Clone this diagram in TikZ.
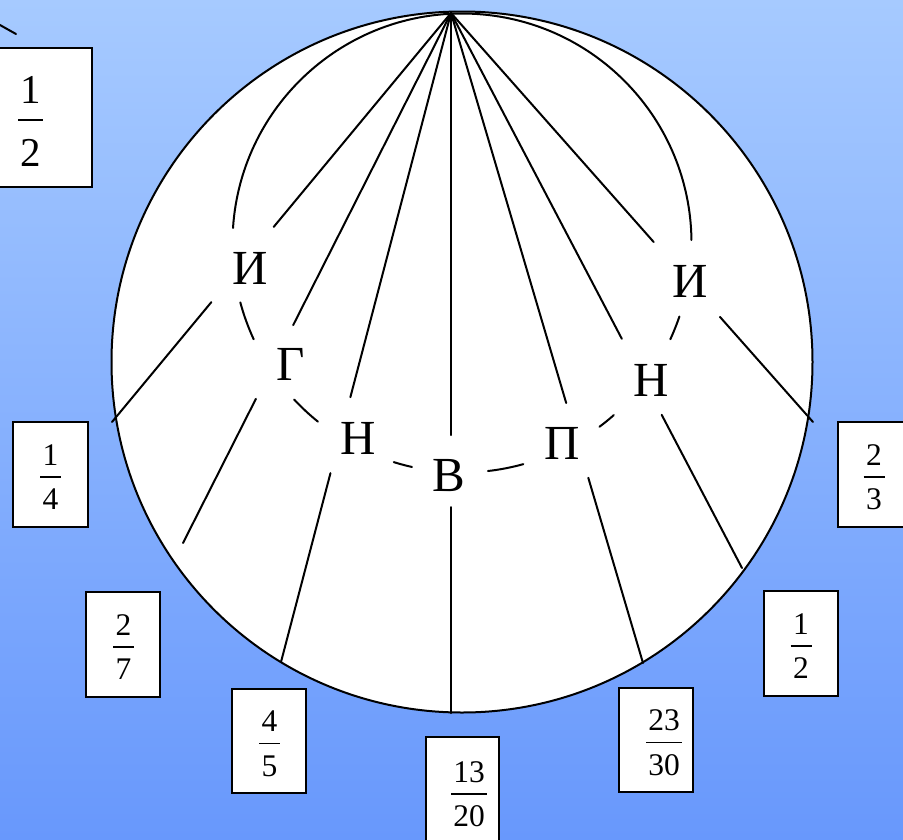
\documentclass[tikz,border=0pt]{standalone}
\usepackage{fontspec}
\setmainfont{Liberation Serif}
\usetikzlibrary{calc}
\definecolor{bgtop}{RGB}{166,202,255}
\definecolor{bgbot}{RGB}{104,152,252}
\tikzset{
  ln/.style={line width=2pt, draw=black, line cap=round},
  fbox/.style={draw=black, line width=2.2pt, fill=white, inner sep=0pt, rectangle},
  fracbar/.style={line width=1.3pt},
  digit/.style={font=\fontsize{31.5}{32}\selectfont, inner sep=0pt},
  bigdigit/.style={font=\fontsize{41}{42}\selectfont, inner sep=0pt},
  letter/.style={font=\fontsize{49}{50}\selectfont, inner sep=0pt},
}
% #1 name, #2 x1, #3 y1, #4 x2, #5 y2, #6 text x, #7 num, #8 den, #9 half bar width
\newcommand{\fracbox}[9]{%
  \node[fbox, minimum width={(#4)-(#2)}, minimum height={(#5)-(#3)}] (#1) at ({((#2)+(#4))/2},{((#3)+(#5))/2}) {};
  \coordinate (#1bar) at (#6,{((#3)+(#5))/2+2.5});
  \node[digit] (#1num) at ($(#1bar)+(0,-22)$) {#7};
  \node[digit] (#1den) at ($(#1bar)+(0,22.5)$) {#8};
  \draw[fracbar] ($(#1bar)+(-#9,0)$) -- ($(#1bar)+(#9,0)$);
}
\newcommand{\ray}[3]{%
  \draw[ln] (A) -- ($(A)!#2!(#1)$);
  \draw[ln] ($(A)!#3!(#1)$) -- (#1);
}
\begin{document}
\begin{tikzpicture}[x=1pt,y=-1pt]
\useasboundingbox (0,0) rectangle (903,839);
\clip (0,0) rectangle (903,839);
\shade[top color=bgtop, bottom color=bgbot] (0,0) rectangle (903,839);

% stray line at top left
\coordinate (s1) at (-10,19.4);
\coordinate (s2) at (16,34);
\draw[ln] (s1) -- (s2);

% outer circle
\coordinate (O) at (462,362);
\draw[ln, fill=white] (O) circle[radius=350.5];

% apex and ray ends
\coordinate (A) at (451,13);
\coordinate (eb) at (112,422);
\coordinate (ec) at (183,543);
\coordinate (ed) at (281,662);
\coordinate (ee) at (451,713);
\coordinate (ef) at (643,663);
\coordinate (eg) at (742,568);
\coordinate (eh) at (813,422);

\ray{eb}{0.523}{0.707}
\ray{ec}{0.589}{0.728}
\ray{ed}{0.592}{0.709}
\ray{ee}{0.603}{0.706}
\ray{ef}{0.600}{0.715}
\ray{eg}{0.587}{0.724}
\ray{eh}{0.560}{0.743}

% inner circle, interrupted at the letters
\coordinate (C) at (462,243);
\draw[ln] ($(C)+(183.75:229.5)$) arc[start angle=183.75, end angle=359.25, radius=229.5];
\draw[ln] ($(C)+(165.0:229.5)$) arc[start angle=165.0, end angle=155.2, radius=229.5];
\draw[ln] ($(C)+(137.0:229.5)$) arc[start angle=137.0, end angle=128.9, radius=229.5];
\draw[ln] ($(C)+(107.3:229.5)$) arc[start angle=107.3, end angle=102.6, radius=229.5];
\draw[ln] ($(C)+(83.5:229.5)$) arc[start angle=83.5, end angle=74.5, radius=229.5];
\draw[ln] ($(C)+(53.2:229.5)$) arc[start angle=53.2, end angle=48.6, radius=229.5];
\draw[ln] ($(C)+(24.8:229.5)$) arc[start angle=24.8, end angle=18.7, radius=229.5];

% letters
\node[letter] (l1) at (250,268) {И};
\node[letter] (l2) at (291,364) {Г};
\node[letter] (l3) at (358,438) {Н};
\node[letter] (l4) at (449,476) {В};
\node[letter] (l5) at (562,443) {П};
\node[letter] (l6) at (651,380) {Н};
\node[letter] (l7) at (690,281) {И};

% fraction boxes
\node[fbox, minimum width=123, minimum height=139] (tl) at (30.5,117.5) {};
\coordinate (tlbar) at (30.5,120);
\node[bigdigit] (tlnum) at ($(tlbar)+(0,-30)$) {1};
\node[bigdigit] (tlden) at ($(tlbar)+(0,33)$) {2};
\draw[fracbar] ($(tlbar)+(-12.5,0)$) -- ($(tlbar)+(12.5,0)$);

\fracbox{f1}{13}{422}{88}{527}{50.5}{1}{4}{10.5}
\fracbox{f2}{86}{592}{160}{697}{123.5}{2}{7}{10.5}
\fracbox{f3}{232}{689}{306}{793}{269.5}{4}{5}{10.5}
\fracbox{f4}{426}{737}{499}{846}{469}{13}{20}{18}
\fracbox{f5}{619}{688}{693}{792}{664}{23}{30}{18}
\fracbox{f6}{764}{591}{838}{696}{801}{1}{2}{10.5}
\fracbox{f7}{838}{422}{912}{527}{874}{2}{3}{10.5}
\end{tikzpicture}
\end{document}
